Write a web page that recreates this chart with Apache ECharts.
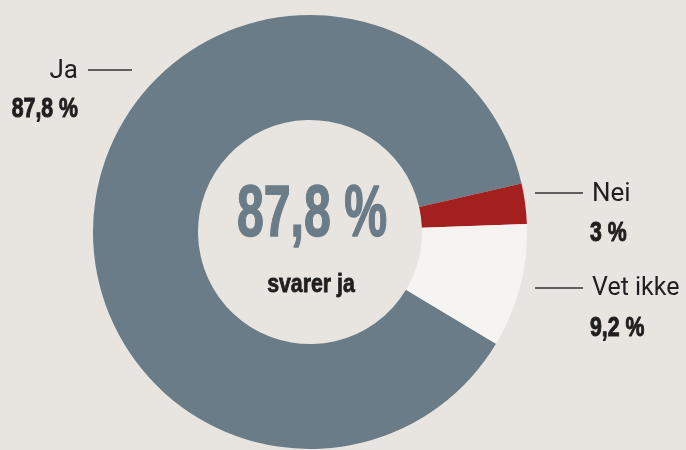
<!DOCTYPE html>
<html>
<head>
<meta charset="utf-8">
<script src="https://cdn.jsdelivr.net/npm/echarts@6/dist/echarts.min.js"></script>
<style>
  html, body { margin: 0; padding: 0; background: #e8e4df; }
  #grafica { width: 686px; height: 450px; }
</style>
</head>
<body>
<div id="grafica"></div>
<script>
const categories = ["Ja", "Nei", "Vet ikke"];
const values = [87.8, 3, 9.2];
const centerValue = 87.8;
const centerCaption = "svarer ja";

const colors = ["#6a7c87", "#a3201e", "#f5f4f1"];
const fmt = (v) => String(v).replace(".", ",") + " %";

const labelFont = "Roboto, 'Liberation Sans', sans-serif";
const boldFont = "'Liberation Sans', Arial, sans-serif";

// texto condensado: escala horizontal sobre un texto bold
const txt = (x, y, text, opts) => ({
  type: "text",
  x: x,
  y: y,
  scaleX: opts.scaleX || 1,
  style: {
    text: text,
    x: 0,
    y: 0,
    fill: opts.color || "#1f1f1f",
    stroke: opts.heavy ? opts.color || "#1f1f1f" : null,
    lineWidth: opts.heavy || 0,
    font: opts.font,
    textAlign: opts.align || "left",
    textVerticalAlign: "middle",
  },
});
const linea = (x1, x2, y) => ({
  type: "line",
  shape: { x1: x1, y1: y, x2: x2, y2: y },
  style: { stroke: "#333", lineWidth: 1.5 },
});

let MYCHART;

const option = {
  backgroundColor: "#e8e4df",
  animation: false,
  series: [
    {
      type: "pie",
      center: [310, 232],
      radius: [112, 217],
      startAngle: -31,
      clockwise: true,
      label: { show: false },
      labelLine: { show: false },
      emphasis: { disabled: true },
      data: categories.map((c, i) => ({
        name: c,
        value: values[i],
        itemStyle: { color: colors[i] },
      })),
    },
  ],
  graphic: [
    // Ja
    txt(78, 71, categories[0], { font: "26px " + labelFont, align: "right" }),
    linea(88, 132, 70),
    txt(78, 109, fmt(values[0]), { font: "bold 28px " + boldFont, align: "right", scaleX: 0.76, heavy: 1 }),
    // Nei
    linea(535, 583, 193),
    txt(592, 194, categories[1], { font: "26px " + labelFont }),
    txt(590, 233, fmt(values[1]), { font: "bold 28px " + boldFont, scaleX: 0.76, heavy: 1 }),
    // Vet ikke
    linea(535, 583, 288),
    txt(592, 289, categories[2], { font: "25px " + labelFont }),
    txt(590, 328, fmt(values[2]), { font: "bold 28px " + boldFont, scaleX: 0.76, heavy: 1 }),
    // centro
    txt(312, 216, fmt(centerValue), { font: "bold 72px " + boldFont, align: "center", scaleX: 0.67, color: "#6a7c87", heavy: 1.5 }),
    txt(311, 285, centerCaption, { font: "bold 26px " + boldFont, align: "center", scaleX: 0.82, color: "#1f1f1f", heavy: 0.8 }),
  ],
};

const createEcharts = () => {
  MYCHART = echarts.init(document.querySelector("#grafica"));
  MYCHART.setOption(option);
};

window.addEventListener("DOMContentLoaded", () => {
  createEcharts();
});
</script>
</body>
</html>
